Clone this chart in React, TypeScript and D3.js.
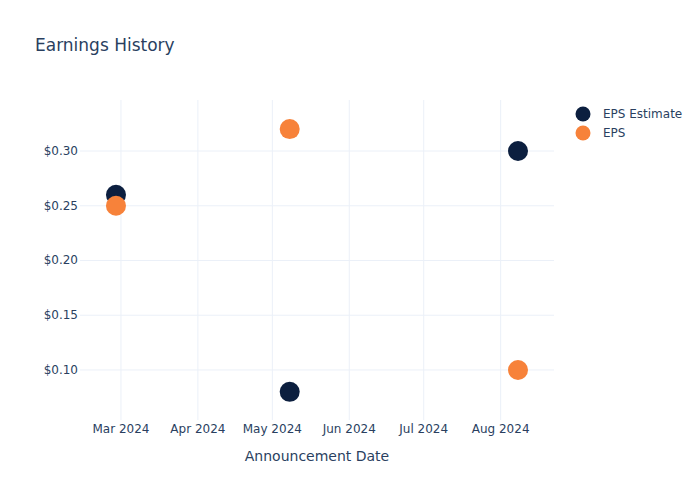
import React from "react";
import * as d3 from "d3";

const dates = ["2024-02-28", "2024-05-08", "2024-08-08"];
const epsEstimate = [0.26, 0.08, 0.3];
const epsActual = [0.25, 0.32, 0.1];
const yTicks = [0.1, 0.15, 0.2, 0.25, 0.3];
const xTickDates = ["2024-03-01", "2024-04-01", "2024-05-01", "2024-06-01", "2024-07-01", "2024-08-01"];
const seriesNames = ["EPS Estimate", "EPS"];
const seriesColors = ["#0c1f3f", "#f7823a"];

const W = 700, H = 500;
const left = 80, right = 554, top = 100, bottom = 420;
const textColor = "#2a3f5f";
const gridColor = "#ebf0f8";
const font = "'DejaVu Sans', Verdana, sans-serif";

const parse = d3.utcParse("%Y-%m-%d");
const parseTime = d3.utcParse("%Y-%m-%dT%H:%M");
const fmtTick = d3.utcFormat("%b %Y");

export default function App() {
  const x = d3.scaleUtc()
    .domain([parseTime("2024-02-13T12:00")!, parseTime("2024-08-22T12:00")!])
    .range([left, right]);
  const y = d3.scaleLinear().domain([0.0543, 0.3466]).range([bottom, top]);
  const series = [epsEstimate, epsActual];

  return (
    <svg width={W} height={H} style={{ position: "absolute", left: 0, top: 0, fontFamily: font }}>
      <rect width={W} height={H} fill="#fff" />
      <text x={35} y={51} fontSize={17} fill={textColor}>Earnings History</text>
      {xTickDates.map((d) => {
        const px = x(parse(d)!);
        return (
          <g key={d}>
            <line x1={px} x2={px} y1={top} y2={bottom} stroke={gridColor} strokeWidth={1} />
            <text x={px} y={433} fontSize={12} fill={textColor} textAnchor="middle">{fmtTick(parse(d)!)}</text>
          </g>
        );
      })}
      {yTicks.map((v) => {
        const py = y(v);
        return (
          <g key={v}>
            <line x1={left} x2={right} y1={py} y2={py} stroke={gridColor} strokeWidth={1} />
            <text x={78} y={py + 4} fontSize={12} fill={textColor} textAnchor="end">{d3.format("$.2f")(v)}</text>
          </g>
        );
      })}
      <text x={(left + right) / 2} y={461} fontSize={14} fill={textColor} textAnchor="middle">Announcement Date</text>
      {series.map((vals, si) => (
        <g key={si}>
          {vals.map((v, i) => (
            <circle key={i} cx={x(parse(dates[i])!)} cy={y(v)} r={10} fill={seriesColors[si]} />
          ))}
        </g>
      ))}
      {seriesNames.map((n, i) => (
        <g key={n}>
          <circle cx={583} cy={114 + i * 19} r={7.5} fill={seriesColors[i]} />
          <text x={603} y={118 + i * 19} fontSize={12} fill={textColor}>{n}</text>
        </g>
      ))}
    </svg>
  );
}
